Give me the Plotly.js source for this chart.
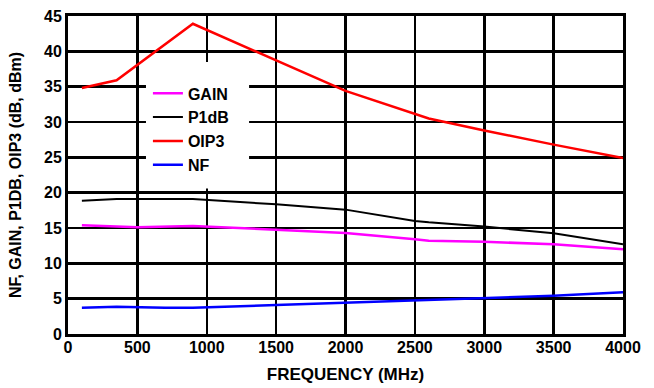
<!DOCTYPE html>
<html>
<head>
<meta charset="utf-8">
<script src="https://cdn.plot.ly/plotly-3.0.1.min.js"></script>
<style>html,body{margin:0;padding:0;background:#fff;}#chart{width:654px;height:388px;}</style>
</head>
<body>
<div id="chart"></div>
<script>
// Frequency points (MHz) and measured values
const freqGain = [100, 500, 900, 1500, 2000, 2500, 2600, 3000, 3500, 4000];
const gain     = [15.4, 15.1, 15.3, 14.7, 14.3, 13.4, 13.2, 13.05, 12.7, 12.0];

const freqP1dB = [100, 350, 900, 1500, 2000, 2500, 2600, 3000, 3500, 4000];
const p1db     = [18.85, 19.1, 19.1, 18.35, 17.6, 16.0, 15.8, 15.2, 14.25, 12.7];

const freqOIP3 = [100, 350, 900, 2000, 2600, 3000, 3500, 4000];
const oip3     = [34.8, 35.9, 43.9, 34.4, 30.5, 28.8, 26.8, 24.9];

const freqNF = [100, 350, 700, 900, 1500, 2000, 2500, 3000, 3500, 4000];
const nf     = [3.73, 3.87, 3.7, 3.73, 4.1, 4.43, 4.8, 5.05, 5.4, 5.9];

const seriesNames = ['GAIN', 'P1dB', 'OIP3', 'NF'];
const xTicks = [0, 500, 1000, 1500, 2000, 2500, 3000, 3500, 4000];
const yTicks = [0, 5, 10, 15, 20, 25, 30, 35, 40, 45];

const font = 'Liberation Sans, Arial, Helvetica, sans-serif';

const traces = [
  {x: freqGain, y: gain, name: seriesNames[0], line: {color: '#ff00ff', width: 2.5}, legendgroup: 'a'},
  {x: freqP1dB, y: p1db, name: seriesNames[1], line: {color: '#000000', width: 2}, legendgroup: 'b'},
  {x: freqOIP3, y: oip3, name: seriesNames[2], line: {color: '#ff0000', width: 2.5}, legendgroup: 'c'},
  {x: freqNF, y: nf, name: seriesNames[3], line: {color: '#0000ff', width: 2.5}, legendgroup: 'd'}
].map(t => Object.assign({type: 'scatter', mode: 'lines'}, t, {name: '<b>' + t.name + '</b>'}));

const layout = {
  width: 654, height: 388,
  margin: {l: 68, r: 31, t: 16, b: 54},
  paper_bgcolor: '#fff', plot_bgcolor: '#fff',
  font: {family: font, size: 16, color: '#000', weight: 'bold'},
  showlegend: true,
  legend: {
    x: 0.144, y: 0.81, xanchor: 'left', yanchor: 'top',
    bgcolor: 'rgba(255,255,255,0)', borderwidth: 0,
    font: {family: font, size: 16, color: '#000'},
    tracegroupgap: 4, traceorder: 'normal'
  },
  xaxis: {
    range: [0, 4000], tickvals: xTicks, ticktext: xTicks.map(String),
    showgrid: true, gridcolor: '#000', gridwidth: 2.5,
    showline: true, linecolor: '#000', linewidth: 3, mirror: true,
    ticks: '', zeroline: false, ticklabelstandoff: -3,
    tickfont: {family: font, size: 16, weight: 'bold'},
    title: {text: 'FREQUENCY (MHz)', font: {family: font, size: 17, weight: 'bold'}, standoff: 13}
  },
  yaxis: {
    range: [0, 45], tickvals: yTicks, ticktext: yTicks.map(String),
    showgrid: true, gridcolor: '#000', gridwidth: 2.5,
    showline: true, linecolor: '#000', linewidth: 3, mirror: true,
    ticks: '', zeroline: false,
    tickfont: {family: font, size: 16, weight: 'bold'},
    title: {text: 'NF, GAIN, P1DB, OIP3 (dB, dBm)', font: {family: font, size: 16, weight: 'bold'}, standoff: 19}
  },
  shapes: [{
    type: 'rect', xref: 'x', yref: 'y', x0: 562, x1: 1305, y0: 20.6, y1: 38.5,
    fillcolor: '#fff', line: {width: 0}, layer: 'above'
  }]
};

Plotly.newPlot('chart', traces, layout, {displayModeBar: false, staticPlot: true});
</script>
</body>
</html>
